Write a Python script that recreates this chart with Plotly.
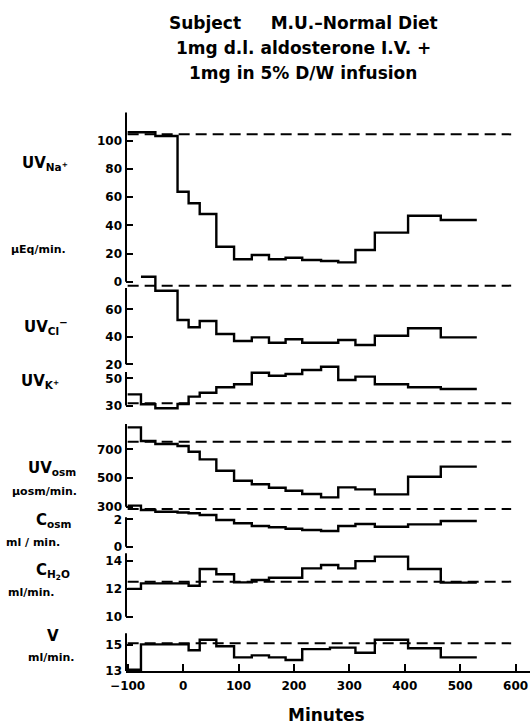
import plotly.graph_objects as go

# ---------------- data ----------------
# collection-period boundaries, minutes
T_NA = [-100, -50, -10, 10, 30, 60, 92, 124, 155, 185, 215, 249, 280, 311, 346, 406, 465, 530]
UV_NA = [106, 103.3, 63.8, 55.6, 48, 24.8, 15.9, 18.9, 15.9, 17, 15.4, 14.7, 13.7, 22.5, 34.8, 46.8, 43.8]

T_CL = [-76, -50, -10, 10, 30, 60, 92, 124, 155, 185, 215, 280, 311, 346, 406, 465, 530]
UV_CL = [83.7, 73.5, 52.2, 46.9, 51.5, 42, 36.9, 39.6, 35.7, 38.2, 35.7, 37.7, 34, 40.8, 46.2, 39.6]

T_K = [-100, -76, -50, -10, 10, 30, 60, 92, 124, 155, 185, 215, 249, 280, 311, 346, 406, 465, 530]
UV_K = [38.2, 30.9, 28, 31.1, 36.5, 39.4, 43.4, 45.6, 54.1, 51.9, 53.2, 56.1, 58.5, 48.8, 51.2, 45.6, 43.4, 42.1]

T_OSM = [-100, -76, -50, -10, 10, 30, 60, 92, 124, 155, 185, 215, 249, 280, 311, 346, 406, 465, 530]
UV_OSM = [853, 758, 737, 723, 683, 630, 551, 481, 456, 432, 411, 388, 365, 435, 421, 386, 509, 579]

T_COSM = [-100, -76, -50, -10, 10, 30, 60, 92, 124, 155, 185, 215, 249, 280, 311, 346, 406, 465, 530]
C_OSM = [3.0, 2.68, 2.55, 2.5, 2.44, 2.31, 1.95, 1.71, 1.51, 1.42, 1.31, 1.22, 1.15, 1.51, 1.66, 1.46, 1.63, 1.88]

T_CH2O = [-100, -76, 10, 30, 60, 92, 124, 155, 215, 249, 280, 311, 346, 406, 465, 530]
C_H2O = [12.0, 12.4, 12.23, 13.43, 13.05, 12.47, 12.64, 12.8, 13.48, 13.72, 13.48, 14.0, 14.32, 13.43, 12.45]

T_V = [-100, -76, 10, 30, 60, 92, 124, 155, 185, 215, 265, 311, 346, 406, 465, 530]
V = [13.1, 15.05, 14.6, 15.4, 14.9, 14.05, 14.2, 14.05, 13.85, 14.68, 14.8, 14.4, 15.4, 14.75, 14.05]

# control (dashed) levels
CTRL_NA, CTRL_CL, CTRL_K, CTRL_OSM, CTRL_COSM, CTRL_CH2O, CTRL_V = 104.5, 77.2, 31.6, 753, 2.75, 12.52, 15.13
CTRL_X = [-100, 592]

X_TICKS = [-100, 0, 100, 200, 300, 400, 500, 600]
X_TICKTEXT = ["\u2212100", "0", "100", "200", "300", "400", "500", "600"]

TITLE_LINES = ["Subject\u00a0\u00a0\u00a0\u00a0 M.U.\u2013Normal Diet",
               "1mg d.l. aldosterone I.V. +",
               "1mg in 5% D/W infusion"]

# ---------------- layout constants ----------------
W, H = 531, 726
ML, MR = 126, 1
PW = W - ML - MR
X_RANGE = [-103, 626]
FONT = "DejaVu Sans"


def py(px):
    return 1 - px / H


def pxx(px):
    return (px - ML) / PW


# panel: data, ticks, scale (value, pixel, px per unit), domain px (top, bottom), axis line extent
panels = [
    dict(x=T_NA, y=UV_NA, ctrl=CTRL_NA, ticks=[0, 20, 40, 60, 80, 100], scale=(0, 281.7, 1.41), dom=(110, 284), ax=(0, 120)),
    dict(x=T_CL, y=UV_CL, ctrl=CTRL_CL, ticks=[20, 40, 60], scale=(20, 364.3, 1.375), dom=(272, 366), ax=(20, 75.5)),
    dict(x=T_K, y=UV_K, ctrl=CTRL_K, ticks=[30, 50], scale=(30, 405.5, 1.36), dom=(360, 410), ax=(30, 54.6)),
    dict(x=T_OSM, y=UV_OSM, ctrl=CTRL_OSM, ticks=[300, 500, 700], scale=(300, 506.7, 0.1435), dom=(420, 509), ax=(300, 876)),
    dict(x=T_COSM, y=C_OSM, ctrl=CTRL_COSM, ticks=[0, 2], scale=(0, 546.7, 13.7), dom=(501, 548), ax=(0, 2.15)),
    dict(x=T_CH2O, y=C_H2O, ctrl=CTRL_CH2O, ticks=[10, 12, 14], scale=(10, 616.7, 13.9), dom=(552, 618), ax=(10, 14.56)),
    dict(x=T_V, y=V, ctrl=CTRL_V, ticks=[13, 15], scale=(13, 671, 13.0), dom=(629, 671), ax=(13, 15.9)),
]

fig = go.Figure()
layout = dict(
    width=W, height=H, margin=dict(l=ML, r=MR, t=0, b=0),
    template="none", paper_bgcolor="white", plot_bgcolor="rgba(0,0,0,0)",
    showlegend=False, font=dict(family=FONT, color="black", weight="bold"),
)
shapes = []
tickfont = dict(family=FONT, size=12, color="black", weight="bold")

for i, p in enumerate(panels):
    n = i + 1
    yname = "y" if n == 1 else f"y{n}"
    lname = "yaxis" if n == 1 else f"yaxis{n}"
    v0, px0, ppu = p["scale"]
    top, bot = p["dom"]
    vr = lambda px: v0 + (px0 - px) / ppu
    layout[lname] = dict(
        domain=[py(bot), py(top)], range=[vr(bot), vr(top)], anchor="x",
        showline=False, showgrid=False, zeroline=False,
        ticks="inside", ticklen=7, tickwidth=2, tickcolor="black",
        tickvals=p["ticks"], ticktext=[str(t) for t in p["ticks"]],
        tickfont=tickfont, ticklabelstandoff=3, automargin=False,
    )
    shapes.append(dict(type="line", xref="x domain", x0=0, x1=0, yref=yname,
                       y0=p["ax"][0], y1=p["ax"][1], line=dict(color="black", width=2)))
    fig.add_trace(go.Scatter(x=CTRL_X, y=[p["ctrl"]] * 2, xaxis="x", yaxis=yname, mode="lines",
                             line=dict(color="black", width=2, dash="11px,6px"), hoverinfo="skip"))
    fig.add_trace(go.Scatter(x=p["x"], y=list(p["y"]) + [p["y"][-1]], xaxis="x", yaxis=yname,
                             mode="lines", line=dict(color="black", width=2.4, shape="hv")))

layout["xaxis"] = dict(
    domain=[0, 1], range=X_RANGE, anchor="y7",
    showline=True, linewidth=2, linecolor="black", showgrid=False, zeroline=False,
    ticks="inside", ticklen=7, tickwidth=2, tickcolor="black",
    tickvals=X_TICKS, ticktext=X_TICKTEXT, tickfont=tickfont, automargin=False,
    ticklabelstandoff=3,
)

ann = []
for k, (line, ypx) in enumerate(zip(TITLE_LINES, [23, 48, 73])):
    ann.append(dict(text=line, x=pxx(303), y=py(ypx), xref="paper", yref="paper",
                    showarrow=False, xanchor="center", yanchor="middle",
                    font=dict(family=FONT, size=17, color="black", weight="bold")))

labels = [
    ("UV<sub>Na<sup>+</sup></sub>", 45, 163, 15),
    ("\u00b5Eq/min.", 38, 249, 11),
    ("UV<sub>Cl</sub><sup>\u2212</sup>", 46, 327, 15),
    ("UV<sub>K<sup>+</sup></sub>", 40, 381, 15),
    ("UV<sub>osm</sub>", 52, 468, 15),
    ("\u00b5osm/min.", 44, 491, 11),
    ("C<sub>osm</sub>", 53, 520, 15),
    ("ml / min.", 33, 542, 11),
    ("C<sub>H<sub>2</sub>O</sub>", 53, 571, 15),
    ("ml/min.", 31, 592, 11),
    ("V", 53, 636, 15),
    ("ml/min.", 51, 657, 11),
]
for text, xpx, ypx, size in labels:
    ann.append(dict(text=text, x=pxx(xpx), y=py(ypx), xref="paper", yref="paper",
                    showarrow=False, xanchor="center", yanchor="middle",
                    font=dict(family=FONT, size=size, color="black", weight="bold")))

ann.append(dict(text="Minutes", x=pxx(326), y=py(715), xref="paper", yref="paper",
                showarrow=False, xanchor="center", yanchor="middle",
                font=dict(family=FONT, size=17, color="black", weight="bold")))

layout["annotations"] = ann
layout["shapes"] = shapes
fig.update_layout(**layout)
fig.write_html("out.html")
